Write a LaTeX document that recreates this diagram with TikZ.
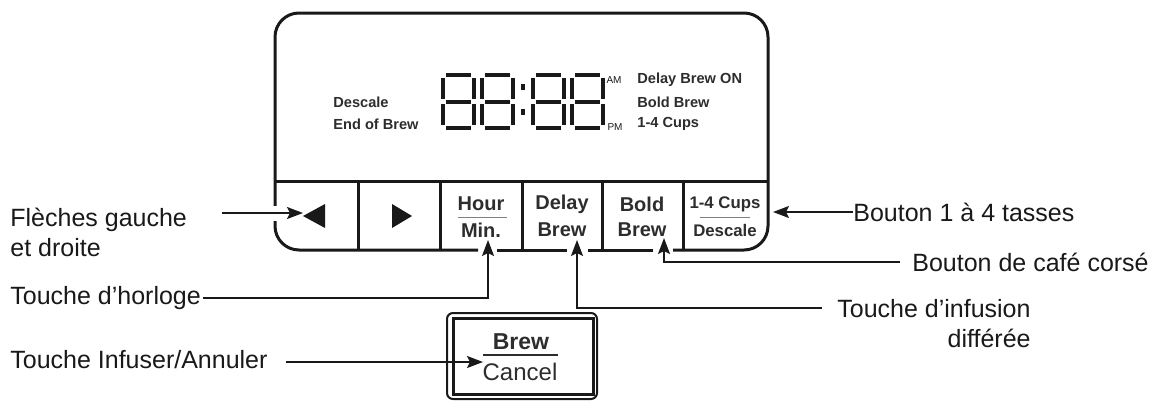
\documentclass[tikz,border=0pt]{standalone}
\usepackage{fontspec}
\setmainfont{Liberation Sans}
\usetikzlibrary{arrows.meta}
\definecolor{ink}{RGB}{25,25,25}
\definecolor{keyink}{RGB}{45,45,45}

\tikzset{
  frame/.style={line width=1.5pt, ink},
  conn/.style={line width=0.9pt, ink, -{Stealth[length=8pt,width=6pt,inset=1.5pt]}},
  label/.style={anchor=west, inner sep=0pt, font=\fontsize{12.5}{15}\selectfont, text=ink},
  lcd/.style={anchor=west, inner sep=0pt, font=\fontsize{7.3}{8}\selectfont\bfseries, text=keyink},
  keytext/.style={inner sep=0pt, font=\fontsize{10}{11}\selectfont\bfseries, text=keyink},
  smallkey/.style={inner sep=0pt, font=\fontsize{8.4}{9}\selectfont\bfseries, text=keyink},
  seg/.style={line width=2pt, ink},
  keyrule/.style={line width=0.5pt, gray},
}

\begin{document}
\begin{tikzpicture}[x=0.5pt, y=-0.5pt]
    \useasboundingbox (0,0) rectangle (1159,407);

    %% --- Display frame (gaps left for the three arrows) ---
    \draw[frame, rounded corners=12pt] (478,250) -- (275,250) -- (275,13) -- (768,13) -- (768,250) -- (673,250);
    \draw[frame] (653,250) -- (588,250);
    \draw[frame] (567,250) -- (497,250);
    %% gap where the left arrow crosses
    \draw[white, line width=2pt] (275,206) -- (275,221);

    %% --- Key row ---
    \draw[frame] (275,181) -- (768,181);
    \foreach \kx in {358,440,522,602,683}
        \draw[frame] (\kx,181) -- (\kx,250);

    %% --- LCD digits 88:88 ---
    \foreach \dx in {443,482,533,572}{
        \begin{scope}[shift={(\dx,75)}]
            \draw[seg] (3,0) -- (28,0);
            \draw[seg] (0,3) -- (0,24);
            \draw[seg] (31,3) -- (31,24);
            \draw[seg] (3,26.5) -- (28,26.5);
            \draw[seg] (0,29) -- (0,50);
            \draw[seg] (31,29) -- (31,50);
            \draw[seg] (3,53) -- (28,53);
        \end{scope}
    }
    \fill[ink] (521,84) rectangle (525,90);
    \fill[ink] (521,109) rectangle (525,115);

    \node[inner sep=0pt, font=\fontsize{5}{5}\selectfont, text=ink] (am) at (614,80) {AM};
    \node[inner sep=0pt, font=\fontsize{5}{5}\selectfont, text=ink] (pm) at (615,127) {PM};

    \node[lcd] (descale) at (333,102) {Descale};
    \node[lcd] (endbrew) at (333,124) {End of Brew};
    \node[lcd] (delayon) at (637,80) {Delay Brew ON};
    \node[lcd] (boldon) at (637,102) {Bold Brew};
    \node[lcd] (cupson) at (637,124) {1-4 Cups};

    %% --- Keys ---
    \fill[ink] (303,216) -- (325,204) -- (325,228) -- cycle;
    \fill[ink] (412,216) -- (392,204) -- (392,228) -- cycle;
    \coordinate (leftkey) at (303,213);

    \node[keytext] (hour) at (481,204) {Hour};
    \draw[keyrule] (458,217) -- (507,217);
    \node[keytext] (min) at (481,230) {Min.};
    \node[keytext] (delay) at (562,204) {Delay};
    \node[keytext] (delaybrew) at (562,230) {Brew};
    \node[keytext] (bold) at (642,204) {Bold};
    \node[keytext] (boldbrew) at (642,230) {Brew};
    \node[smallkey] (cups) at (725,204) {1-4 Cups};
    \draw[keyrule] (700,217) -- (750,217);
    \node[smallkey] (cupsdescale) at (725,230) {Descale};

    \coordinate (hourtip) at (488,240);
    \coordinate (delaytip) at (577,240);
    \coordinate (boldtip) at (664,238);
    \coordinate (cupstip) at (773,212);

    %% --- Brew / Cancel key ---
    \draw[line width=1pt, ink, rounded corners=3pt] (447,313) rectangle (597,399);
    \draw[line width=1.5pt, ink] (453,318) rectangle (593,394);
    \node[inner sep=0pt, font=\fontsize{11.5}{12}\selectfont\bfseries, text=keyink] (brew) at (521,342) {Brew};
    \draw[line width=0.8pt, keyink] (483,355) -- (558,355);
    \node[inner sep=0pt, font=\fontsize{12}{13}\selectfont, text=keyink] (cancel) at (520,372) {Cancel};
    \coordinate (canceltip) at (483,362);

    %% --- Labels and connectors ---
    \node[label, align=left] (fleches) at (10,232) {Flèches gauche\\et droite};
    \coordinate (flstart) at (222,213);
    \draw[conn] (flstart) -- (leftkey);

    \node[label] (horloge) at (10,298) {Touche d’horloge};
    \draw[conn] ([xshift=1pt]horloge.east) -| (hourtip);

    \node[label] (infuser) at (10,360) {Touche Infuser/Annuler};
    \draw[conn] ([xshift=9pt]infuser.east |- canceltip) -- (canceltip);

    \node[label] (tasses) at (853,212) {Bouton 1 à 4 tasses};
    \draw[conn] (tasses.west) -- (cupstip);

    \node[label] (corse) at (912,262) {Bouton de café corsé};
    \draw[conn] ([xshift=-6pt]corse.west) -| (boldtip);

    \node[label, align=right] (differee) at (837,324) {Touche d’infusion\\différée};
    \coordinate (infstart) at (822,308);
    \draw[conn] (infstart) -| (delaytip);

\end{tikzpicture}
\end{document}
